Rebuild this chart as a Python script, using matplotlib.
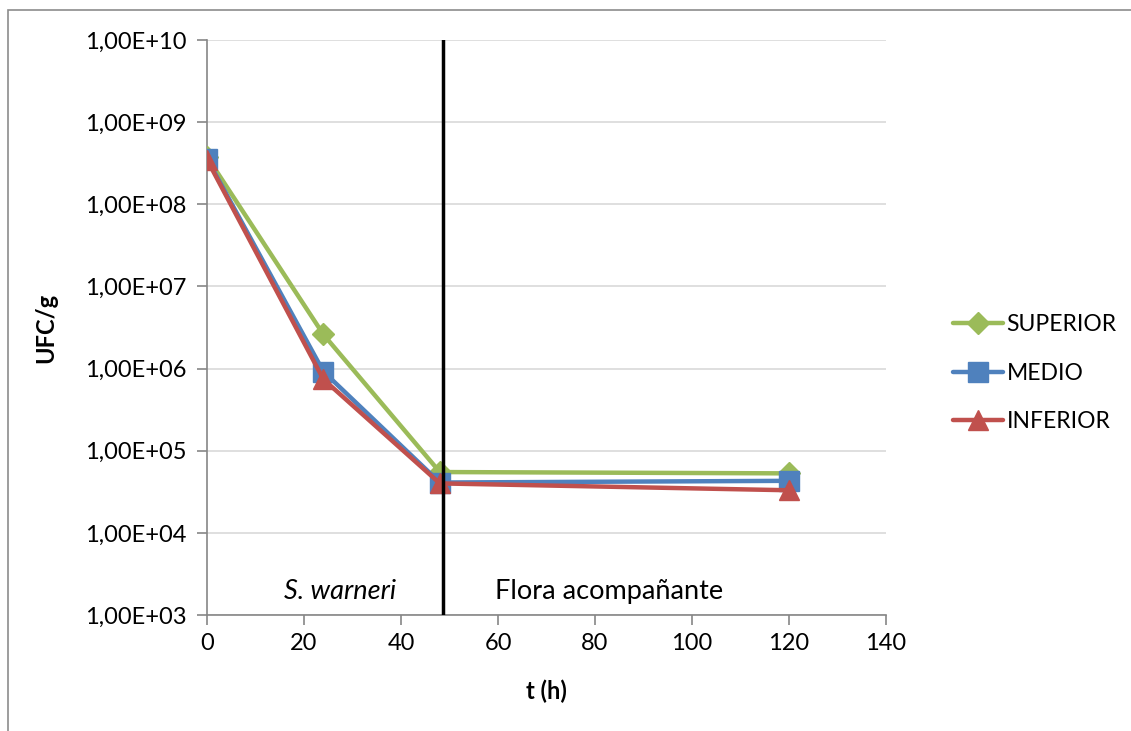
import math
import matplotlib.pyplot as plt
from matplotlib.ticker import FixedLocator, FuncFormatter
from matplotlib.patches import Rectangle

plt.rcParams['font.family'] = ['Lato', 'DejaVu Sans']

# Data
t = [0, 24, 48, 120]
superior = [3.8e8, 2.6e6, 5.5e4, 5.3e4]
medio = [3.6e8, 9.2e5, 4.1e4, 4.3e4]
inferior = [3.5e8, 7.4e5, 4.0e4, 3.3e4]
series_names = ['SUPERIOR', 'MEDIO', 'INFERIOR']
phase_limit = 48.7
phase_labels = ['S. warneri', 'Flora acompañante']

fig = plt.figure(figsize=(11.31, 7.31), dpi=100)
ax = fig.add_axes([207 / 1131, 1 - 615 / 731, (886 - 207) / 1131, (615 - 40) / 731])

# outer chart border (only left/top visible in the reference)
fig.patches.append(Rectangle((8 / 1131, -0.1), 1.2, (731 - 10) / 731 + 0.1,
                             transform=fig.transFigure, fill=False,
                             edgecolor='#8c8c8c', linewidth=1.2))

ax.plot(t, superior, color='#9BBB59', lw=3.2, marker='D', ms=11, label=series_names[0], zorder=3)
ax.plot(t, medio, color='#4F81BD', lw=3.2, marker='s', ms=14, label=series_names[1], zorder=4)
ax.plot(t, inferior, color='#C0504D', lw=3.2, marker='^', ms=14, label=series_names[2], zorder=5)

ax.axvline(phase_limit, color='black', lw=2.5, zorder=6)

ax.set_yscale('log')
ax.set_ylim(1e3, 1e10)
ax.set_xlim(0, 140)
ax.yaxis.set_major_locator(FixedLocator([10.0 ** k for k in range(3, 11)]))
ax.yaxis.set_minor_locator(FixedLocator([]))


def sci_fmt(v, pos):
    e = int(round(math.log10(v)))
    return f"1,00E+{e:02d}"


ax.yaxis.set_major_formatter(FuncFormatter(sci_fmt))
ax.set_xticks(range(0, 141, 20))

ax.grid(axis='y', color='#d9d9d9', lw=1.2)
ax.set_axisbelow(True)
for side in ['top', 'right']:
    ax.spines[side].set_visible(False)
for side in ['left', 'bottom']:
    ax.spines[side].set_color('#868686')
    ax.spines[side].set_linewidth(1.2)
ax.tick_params(axis='both', colors='#868686', labelcolor='black', labelsize=17,
               length=7, width=1.2, direction='out')
ax.tick_params(axis='y', pad=8)
ax.tick_params(axis='x', pad=6)

ax.set_xlabel('t (h)', fontsize=17, fontweight='bold', labelpad=18)
ax.set_ylabel('UFC/g', fontsize=17, fontweight='bold', labelpad=20)

ax.text(27.4, 1.95e3, phase_labels[0], style='italic', fontsize=19.5, ha='center', va='center')
ax.text(83, 1.95e3, phase_labels[1], fontsize=19.5, ha='center', va='center')

leg = ax.legend(loc='center left', bbox_to_anchor=(1.068, 0.42), frameon=False, fontsize=16.5,
                handlelength=2.2, labelspacing=1.2, handletextpad=0.15)
for line in leg.get_lines():
    line.set_solid_capstyle('round')

plt.savefig('out.png', dpi=100)
